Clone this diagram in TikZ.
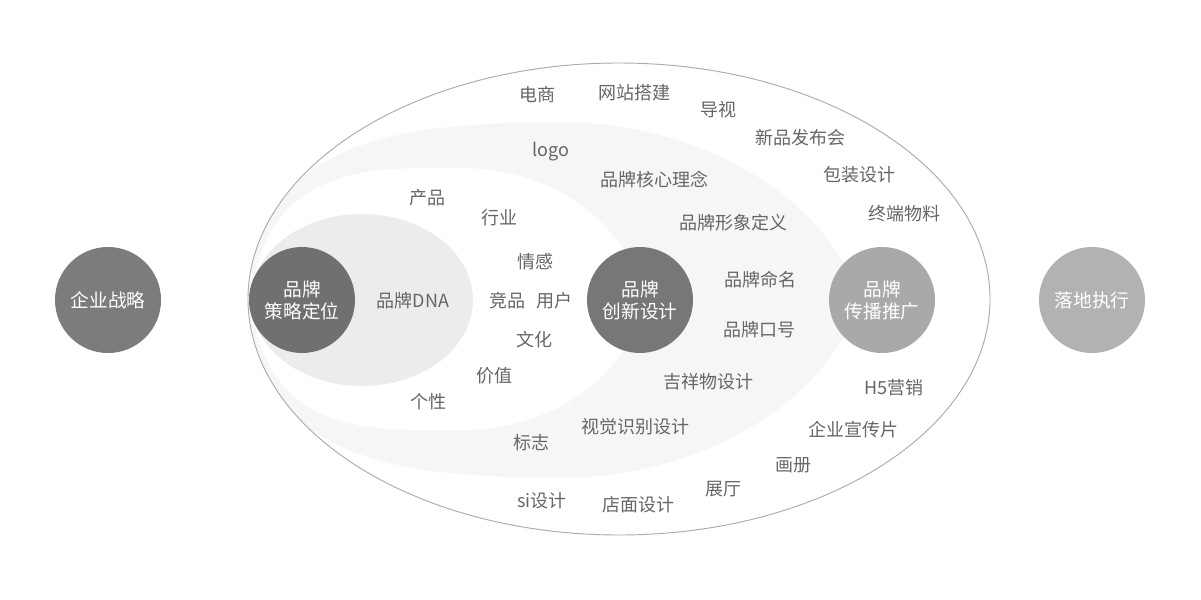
\documentclass[tikz,border=0pt]{standalone}
\usepackage{fontspec}
\setmainfont{Noto Sans CJK SC}
\definecolor{wordgray}{HTML}{666666}
\definecolor{rimgray}{HTML}{ABABAB}
\definecolor{bandgray}{HTML}{F6F6F6}
\definecolor{dnagray}{HTML}{ECECEC}
\begin{document}
\begin{tikzpicture}[x=0.75pt,y=-0.75pt,
stage/.style={circle,minimum size=79.5pt,inner sep=0pt,text=white,align=center,font=\fontsize{14}{16.5}\selectfont},
word/.style={text=wordgray,inner sep=0pt,font=\fontsize{13.5}{16}\selectfont}]

\useasboundingbox (0,0) rectangle (1201,599);
\fill[white] (0,0) rectangle (1201,599);

\begin{scope}
\clip (619,299) ellipse [x radius=371,y radius=236];
\fill[bandgray] (249,300) .. controls (255,130) and (420,124) .. (557,122) .. controls (700,122) and (825,195) .. (860,300)
.. controls (825,405) and (700,478) .. (557,478) .. controls (420,476) and (255,470) .. cycle;
\fill[white] (251,300) .. controls (265,160) and (380,168) .. (460,168) .. controls (560,168) and (630,230) .. (645,300)
.. controls (630,370) and (560,430) .. (460,430) .. controls (380,430) and (265,440) .. cycle;
\end{scope}
\draw[rimgray,line width=0.7pt] (619,299) ellipse [x radius=371,y radius=236];
\fill[dnagray] (362,300) ellipse [x radius=111,y radius=86];

\node[stage,fill={rgb,255:red,124;green,124;blue,124}] (qyzl) at (108,300) {企业战略};
\node[stage,fill={rgb,255:red,112;green,112;blue,112}] (cldw) at (302,300) {品牌\\策略定位};
\node[stage,fill={rgb,255:red,119;green,119;blue,119}] (cxsj) at (640,300) {品牌\\创新设计};
\node[stage,fill={rgb,255:red,169;green,169;blue,169}] (cbtg) at (882,300) {品牌\\传播推广};
\node[stage,fill={rgb,255:red,178;green,178;blue,178}] (ldzx) at (1092,300) {落地执行};

\node[word] (dna) at (413,301) {品牌DNA};
\node[word] (chanpin) at (427,198) {产品};
\node[word] (hangye) at (499,218) {行业};
\node[word] (qinggan) at (535,262) {情感};
\node[word] (jingpin) at (507,301) {竞品};
\node[word] (yonghu) at (554,301) {用户};
\node[word] (wenhua) at (534,340) {文化};
\node[word] (jiazhi) at (494,376) {价值};
\node[word] (gexing) at (428,402) {个性};

\node[word] (logo) at (551,152) {logo};
\node[word] (hexin) at (654,180) {品牌核心理念};
\node[word] (xingxiang) at (733,223) {品牌形象定义};
\node[word] (mingming) at (760,280) {品牌命名};
\node[word] (kouhao) at (759,330) {品牌口号};
\node[word] (jixiangwu) at (708,382) {吉祥物设计};
\node[word] (shijue) at (635,427) {视觉识别设计};
\node[word] (biaozhi) at (531,443) {标志};

\node[word] (dianshang) at (537,95) {电商};
\node[word] (wangzhan) at (634,93) {网站搭建};
\node[word] (daoshi) at (718,110) {导视};
\node[word] (fabuhui) at (800,138) {新品发布会};
\node[word] (baozhuang) at (859,175) {包装设计};
\node[word] (wuliao) at (904,214) {终端物料};
\node[word] (hwu) at (894,388) {H5营销};
\node[word] (xuanchuan) at (853,430) {企业宣传片};
\node[word] (huace) at (793,465) {画册};
\node[word] (zhanting) at (723,489) {展厅};
\node[word] (dianmian) at (638,505) {店面设计};
\node[word] (si) at (542,501) {si设计};

\end{tikzpicture}
\end{document}
